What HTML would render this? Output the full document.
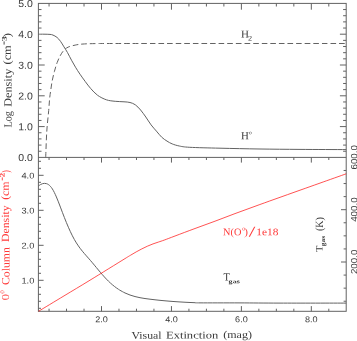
<!DOCTYPE html>
<html><head><meta charset="utf-8"><style>
html,body{margin:0;padding:0;background:#fff;}
body{width:357px;height:341px;overflow:hidden;}
svg{display:block;will-change:transform;}
</style></head><body>
<svg width="357" height="341" viewBox="0 0 357 341">
<rect x="0" y="0" width="357" height="341" fill="#fff"/>
<g style="opacity:0.999">
<g opacity="0.62">
<rect x="38.4" y="3.4" width="307.80" height="307.90" fill="none" stroke="#000" stroke-width="1.0"/>
<line x1="38.40" y1="157.40" x2="346.20" y2="157.40" stroke="#000" stroke-width="1.0"/>
<line x1="49.05" y1="3.40" x2="49.05" y2="6.50" stroke="#000" stroke-width="1.0"/>
<line x1="49.05" y1="157.40" x2="49.05" y2="160.00" stroke="#000" stroke-width="1.0"/>
<line x1="49.05" y1="311.30" x2="49.05" y2="308.70" stroke="#000" stroke-width="1.0"/>
<line x1="66.53" y1="3.40" x2="66.53" y2="6.50" stroke="#000" stroke-width="1.0"/>
<line x1="66.53" y1="157.40" x2="66.53" y2="160.00" stroke="#000" stroke-width="1.0"/>
<line x1="66.53" y1="311.30" x2="66.53" y2="308.70" stroke="#000" stroke-width="1.0"/>
<line x1="84.02" y1="3.40" x2="84.02" y2="6.50" stroke="#000" stroke-width="1.0"/>
<line x1="84.02" y1="157.40" x2="84.02" y2="160.00" stroke="#000" stroke-width="1.0"/>
<line x1="84.02" y1="311.30" x2="84.02" y2="308.70" stroke="#000" stroke-width="1.0"/>
<line x1="101.50" y1="3.40" x2="101.50" y2="9.70" stroke="#000" stroke-width="1.0"/>
<line x1="101.50" y1="157.40" x2="101.50" y2="162.60" stroke="#000" stroke-width="1.0"/>
<line x1="101.50" y1="311.30" x2="101.50" y2="306.10" stroke="#000" stroke-width="1.0"/>
<line x1="118.98" y1="3.40" x2="118.98" y2="6.50" stroke="#000" stroke-width="1.0"/>
<line x1="118.98" y1="157.40" x2="118.98" y2="160.00" stroke="#000" stroke-width="1.0"/>
<line x1="118.98" y1="311.30" x2="118.98" y2="308.70" stroke="#000" stroke-width="1.0"/>
<line x1="136.47" y1="3.40" x2="136.47" y2="6.50" stroke="#000" stroke-width="1.0"/>
<line x1="136.47" y1="157.40" x2="136.47" y2="160.00" stroke="#000" stroke-width="1.0"/>
<line x1="136.47" y1="311.30" x2="136.47" y2="308.70" stroke="#000" stroke-width="1.0"/>
<line x1="153.95" y1="3.40" x2="153.95" y2="6.50" stroke="#000" stroke-width="1.0"/>
<line x1="153.95" y1="157.40" x2="153.95" y2="160.00" stroke="#000" stroke-width="1.0"/>
<line x1="153.95" y1="311.30" x2="153.95" y2="308.70" stroke="#000" stroke-width="1.0"/>
<line x1="171.44" y1="3.40" x2="171.44" y2="9.70" stroke="#000" stroke-width="1.0"/>
<line x1="171.44" y1="157.40" x2="171.44" y2="162.60" stroke="#000" stroke-width="1.0"/>
<line x1="171.44" y1="311.30" x2="171.44" y2="306.10" stroke="#000" stroke-width="1.0"/>
<line x1="188.93" y1="3.40" x2="188.93" y2="6.50" stroke="#000" stroke-width="1.0"/>
<line x1="188.93" y1="157.40" x2="188.93" y2="160.00" stroke="#000" stroke-width="1.0"/>
<line x1="188.93" y1="311.30" x2="188.93" y2="308.70" stroke="#000" stroke-width="1.0"/>
<line x1="206.41" y1="3.40" x2="206.41" y2="6.50" stroke="#000" stroke-width="1.0"/>
<line x1="206.41" y1="157.40" x2="206.41" y2="160.00" stroke="#000" stroke-width="1.0"/>
<line x1="206.41" y1="311.30" x2="206.41" y2="308.70" stroke="#000" stroke-width="1.0"/>
<line x1="223.89" y1="3.40" x2="223.89" y2="6.50" stroke="#000" stroke-width="1.0"/>
<line x1="223.89" y1="157.40" x2="223.89" y2="160.00" stroke="#000" stroke-width="1.0"/>
<line x1="223.89" y1="311.30" x2="223.89" y2="308.70" stroke="#000" stroke-width="1.0"/>
<line x1="241.38" y1="3.40" x2="241.38" y2="9.70" stroke="#000" stroke-width="1.0"/>
<line x1="241.38" y1="157.40" x2="241.38" y2="162.60" stroke="#000" stroke-width="1.0"/>
<line x1="241.38" y1="311.30" x2="241.38" y2="306.10" stroke="#000" stroke-width="1.0"/>
<line x1="258.87" y1="3.40" x2="258.87" y2="6.50" stroke="#000" stroke-width="1.0"/>
<line x1="258.87" y1="157.40" x2="258.87" y2="160.00" stroke="#000" stroke-width="1.0"/>
<line x1="258.87" y1="311.30" x2="258.87" y2="308.70" stroke="#000" stroke-width="1.0"/>
<line x1="276.35" y1="3.40" x2="276.35" y2="6.50" stroke="#000" stroke-width="1.0"/>
<line x1="276.35" y1="157.40" x2="276.35" y2="160.00" stroke="#000" stroke-width="1.0"/>
<line x1="276.35" y1="311.30" x2="276.35" y2="308.70" stroke="#000" stroke-width="1.0"/>
<line x1="293.83" y1="3.40" x2="293.83" y2="6.50" stroke="#000" stroke-width="1.0"/>
<line x1="293.83" y1="157.40" x2="293.83" y2="160.00" stroke="#000" stroke-width="1.0"/>
<line x1="293.83" y1="311.30" x2="293.83" y2="308.70" stroke="#000" stroke-width="1.0"/>
<line x1="311.32" y1="3.40" x2="311.32" y2="9.70" stroke="#000" stroke-width="1.0"/>
<line x1="311.32" y1="157.40" x2="311.32" y2="162.60" stroke="#000" stroke-width="1.0"/>
<line x1="311.32" y1="311.30" x2="311.32" y2="306.10" stroke="#000" stroke-width="1.0"/>
<line x1="328.81" y1="3.40" x2="328.81" y2="6.50" stroke="#000" stroke-width="1.0"/>
<line x1="328.81" y1="157.40" x2="328.81" y2="160.00" stroke="#000" stroke-width="1.0"/>
<line x1="328.81" y1="311.30" x2="328.81" y2="308.70" stroke="#000" stroke-width="1.0"/>
<line x1="38.40" y1="151.24" x2="41.50" y2="151.24" stroke="#000" stroke-width="1.0"/>
<line x1="346.20" y1="151.24" x2="343.10" y2="151.24" stroke="#000" stroke-width="1.0"/>
<line x1="38.40" y1="145.08" x2="41.50" y2="145.08" stroke="#000" stroke-width="1.0"/>
<line x1="346.20" y1="145.08" x2="343.10" y2="145.08" stroke="#000" stroke-width="1.0"/>
<line x1="38.40" y1="138.92" x2="41.50" y2="138.92" stroke="#000" stroke-width="1.0"/>
<line x1="346.20" y1="138.92" x2="343.10" y2="138.92" stroke="#000" stroke-width="1.0"/>
<line x1="38.40" y1="132.76" x2="41.50" y2="132.76" stroke="#000" stroke-width="1.0"/>
<line x1="346.20" y1="132.76" x2="343.10" y2="132.76" stroke="#000" stroke-width="1.0"/>
<line x1="38.40" y1="126.60" x2="44.70" y2="126.60" stroke="#000" stroke-width="1.0"/>
<line x1="346.20" y1="126.60" x2="339.90" y2="126.60" stroke="#000" stroke-width="1.0"/>
<line x1="38.40" y1="120.44" x2="41.50" y2="120.44" stroke="#000" stroke-width="1.0"/>
<line x1="346.20" y1="120.44" x2="343.10" y2="120.44" stroke="#000" stroke-width="1.0"/>
<line x1="38.40" y1="114.28" x2="41.50" y2="114.28" stroke="#000" stroke-width="1.0"/>
<line x1="346.20" y1="114.28" x2="343.10" y2="114.28" stroke="#000" stroke-width="1.0"/>
<line x1="38.40" y1="108.12" x2="41.50" y2="108.12" stroke="#000" stroke-width="1.0"/>
<line x1="346.20" y1="108.12" x2="343.10" y2="108.12" stroke="#000" stroke-width="1.0"/>
<line x1="38.40" y1="101.96" x2="41.50" y2="101.96" stroke="#000" stroke-width="1.0"/>
<line x1="346.20" y1="101.96" x2="343.10" y2="101.96" stroke="#000" stroke-width="1.0"/>
<line x1="38.40" y1="95.80" x2="44.70" y2="95.80" stroke="#000" stroke-width="1.0"/>
<line x1="346.20" y1="95.80" x2="339.90" y2="95.80" stroke="#000" stroke-width="1.0"/>
<line x1="38.40" y1="89.64" x2="41.50" y2="89.64" stroke="#000" stroke-width="1.0"/>
<line x1="346.20" y1="89.64" x2="343.10" y2="89.64" stroke="#000" stroke-width="1.0"/>
<line x1="38.40" y1="83.48" x2="41.50" y2="83.48" stroke="#000" stroke-width="1.0"/>
<line x1="346.20" y1="83.48" x2="343.10" y2="83.48" stroke="#000" stroke-width="1.0"/>
<line x1="38.40" y1="77.32" x2="41.50" y2="77.32" stroke="#000" stroke-width="1.0"/>
<line x1="346.20" y1="77.32" x2="343.10" y2="77.32" stroke="#000" stroke-width="1.0"/>
<line x1="38.40" y1="71.16" x2="41.50" y2="71.16" stroke="#000" stroke-width="1.0"/>
<line x1="346.20" y1="71.16" x2="343.10" y2="71.16" stroke="#000" stroke-width="1.0"/>
<line x1="38.40" y1="65.00" x2="44.70" y2="65.00" stroke="#000" stroke-width="1.0"/>
<line x1="346.20" y1="65.00" x2="339.90" y2="65.00" stroke="#000" stroke-width="1.0"/>
<line x1="38.40" y1="58.84" x2="41.50" y2="58.84" stroke="#000" stroke-width="1.0"/>
<line x1="346.20" y1="58.84" x2="343.10" y2="58.84" stroke="#000" stroke-width="1.0"/>
<line x1="38.40" y1="52.68" x2="41.50" y2="52.68" stroke="#000" stroke-width="1.0"/>
<line x1="346.20" y1="52.68" x2="343.10" y2="52.68" stroke="#000" stroke-width="1.0"/>
<line x1="38.40" y1="46.52" x2="41.50" y2="46.52" stroke="#000" stroke-width="1.0"/>
<line x1="346.20" y1="46.52" x2="343.10" y2="46.52" stroke="#000" stroke-width="1.0"/>
<line x1="38.40" y1="40.36" x2="41.50" y2="40.36" stroke="#000" stroke-width="1.0"/>
<line x1="346.20" y1="40.36" x2="343.10" y2="40.36" stroke="#000" stroke-width="1.0"/>
<line x1="346.20" y1="34.20" x2="339.90" y2="34.20" stroke="#000" stroke-width="1.0"/>
<line x1="38.40" y1="28.04" x2="41.50" y2="28.04" stroke="#000" stroke-width="1.0"/>
<line x1="346.20" y1="28.04" x2="343.10" y2="28.04" stroke="#000" stroke-width="1.0"/>
<line x1="38.40" y1="21.88" x2="41.50" y2="21.88" stroke="#000" stroke-width="1.0"/>
<line x1="346.20" y1="21.88" x2="343.10" y2="21.88" stroke="#000" stroke-width="1.0"/>
<line x1="38.40" y1="15.72" x2="41.50" y2="15.72" stroke="#000" stroke-width="1.0"/>
<line x1="346.20" y1="15.72" x2="343.10" y2="15.72" stroke="#000" stroke-width="1.0"/>
<line x1="38.40" y1="9.56" x2="41.50" y2="9.56" stroke="#000" stroke-width="1.0"/>
<line x1="346.20" y1="9.56" x2="343.10" y2="9.56" stroke="#000" stroke-width="1.0"/>
<line x1="38.40" y1="308.30" x2="41.00" y2="308.30" stroke="#000" stroke-width="1.0"/>
<line x1="38.40" y1="301.30" x2="41.00" y2="301.30" stroke="#000" stroke-width="1.0"/>
<line x1="38.40" y1="294.30" x2="41.00" y2="294.30" stroke="#000" stroke-width="1.0"/>
<line x1="38.40" y1="287.30" x2="41.00" y2="287.30" stroke="#000" stroke-width="1.0"/>
<line x1="38.40" y1="280.30" x2="43.60" y2="280.30" stroke="#000" stroke-width="1.0"/>
<line x1="38.40" y1="273.30" x2="41.00" y2="273.30" stroke="#000" stroke-width="1.0"/>
<line x1="38.40" y1="266.30" x2="41.00" y2="266.30" stroke="#000" stroke-width="1.0"/>
<line x1="38.40" y1="259.30" x2="41.00" y2="259.30" stroke="#000" stroke-width="1.0"/>
<line x1="38.40" y1="252.30" x2="41.00" y2="252.30" stroke="#000" stroke-width="1.0"/>
<line x1="38.40" y1="245.30" x2="43.60" y2="245.30" stroke="#000" stroke-width="1.0"/>
<line x1="38.40" y1="238.30" x2="41.00" y2="238.30" stroke="#000" stroke-width="1.0"/>
<line x1="38.40" y1="231.30" x2="41.00" y2="231.30" stroke="#000" stroke-width="1.0"/>
<line x1="38.40" y1="224.30" x2="41.00" y2="224.30" stroke="#000" stroke-width="1.0"/>
<line x1="38.40" y1="217.30" x2="41.00" y2="217.30" stroke="#000" stroke-width="1.0"/>
<line x1="38.40" y1="210.30" x2="43.60" y2="210.30" stroke="#000" stroke-width="1.0"/>
<line x1="38.40" y1="203.30" x2="41.00" y2="203.30" stroke="#000" stroke-width="1.0"/>
<line x1="38.40" y1="196.30" x2="41.00" y2="196.30" stroke="#000" stroke-width="1.0"/>
<line x1="38.40" y1="189.30" x2="41.00" y2="189.30" stroke="#000" stroke-width="1.0"/>
<line x1="38.40" y1="182.30" x2="41.00" y2="182.30" stroke="#000" stroke-width="1.0"/>
<line x1="38.40" y1="175.30" x2="43.60" y2="175.30" stroke="#000" stroke-width="1.0"/>
<line x1="38.40" y1="168.30" x2="41.00" y2="168.30" stroke="#000" stroke-width="1.0"/>
<line x1="38.40" y1="161.30" x2="41.00" y2="161.30" stroke="#000" stroke-width="1.0"/>
<line x1="346.20" y1="301.23" x2="343.60" y2="301.23" stroke="#000" stroke-width="1.0"/>
<line x1="346.20" y1="288.15" x2="343.60" y2="288.15" stroke="#000" stroke-width="1.0"/>
<line x1="346.20" y1="275.08" x2="343.60" y2="275.08" stroke="#000" stroke-width="1.0"/>
<line x1="346.20" y1="262.00" x2="341.00" y2="262.00" stroke="#000" stroke-width="1.0"/>
<line x1="346.20" y1="248.93" x2="343.60" y2="248.93" stroke="#000" stroke-width="1.0"/>
<line x1="346.20" y1="235.85" x2="343.60" y2="235.85" stroke="#000" stroke-width="1.0"/>
<line x1="346.20" y1="222.78" x2="343.60" y2="222.78" stroke="#000" stroke-width="1.0"/>
<line x1="346.20" y1="209.70" x2="341.00" y2="209.70" stroke="#000" stroke-width="1.0"/>
<line x1="346.20" y1="196.62" x2="343.60" y2="196.62" stroke="#000" stroke-width="1.0"/>
<line x1="346.20" y1="183.55" x2="343.60" y2="183.55" stroke="#000" stroke-width="1.0"/>
<line x1="346.20" y1="170.47" x2="343.60" y2="170.47" stroke="#000" stroke-width="1.0"/>
<path d="M38.40,34.20 C39.33,34.20 42.07,34.17 44.00,34.20 C45.93,34.23 48.50,34.25 50.00,34.40 C51.50,34.55 51.83,34.60 53.00,35.10 C54.17,35.60 55.75,36.37 57.00,37.40 C58.25,38.43 59.33,39.72 60.50,41.30 C61.67,42.88 62.83,45.02 64.00,46.90 C65.17,48.78 66.25,50.38 67.50,52.60 C68.75,54.82 70.17,57.77 71.50,60.20 C72.83,62.63 74.08,64.87 75.50,67.20 C76.92,69.53 78.37,71.80 80.00,74.20 C81.63,76.60 83.53,79.23 85.30,81.60 C87.07,83.97 88.55,86.12 90.60,88.40 C92.65,90.68 94.97,93.40 97.60,95.30 C100.23,97.20 103.47,98.80 106.40,99.80 C109.33,100.80 112.27,100.97 115.20,101.30 C118.13,101.63 121.53,101.60 124.00,101.80 C126.47,102.00 128.12,102.00 130.00,102.50 C131.88,103.00 133.53,103.55 135.30,104.80 C137.07,106.05 138.85,107.97 140.60,110.00 C142.35,112.03 144.05,114.52 145.80,117.00 C147.55,119.48 149.33,122.55 151.10,124.90 C152.87,127.25 154.63,129.05 156.40,131.10 C158.17,133.15 159.93,135.53 161.70,137.20 C163.47,138.87 165.25,139.98 167.00,141.10 C168.75,142.22 170.15,143.08 172.20,143.90 C174.25,144.72 176.37,145.43 179.30,146.00 C182.23,146.57 183.02,146.93 189.80,147.30 C196.58,147.67 208.30,147.92 220.00,148.20 C231.70,148.48 246.67,148.80 260.00,149.00 C273.33,149.20 285.63,149.30 300.00,149.40 C314.37,149.50 338.50,149.57 346.20,149.60" fill="none" stroke="#000" stroke-width="1"/>
<path d="M45.70,157.40 C45.88,153.02 46.30,138.92 46.80,131.10 C47.30,123.28 48.22,116.02 48.70,110.50 C49.18,104.98 49.33,101.57 49.70,98.00 C50.07,94.43 50.47,92.05 50.90,89.10 C51.33,86.15 51.72,83.23 52.30,80.30 C52.88,77.37 53.60,74.43 54.40,71.50 C55.20,68.57 56.12,65.35 57.10,62.70 C58.08,60.05 59.18,57.65 60.30,55.60 C61.42,53.55 62.48,51.82 63.80,50.40 C65.12,48.98 66.30,47.98 68.20,47.10 C70.10,46.22 72.90,45.60 75.20,45.10 C77.50,44.60 78.57,44.35 82.00,44.10 C85.43,43.85 87.80,43.70 95.80,43.60 C103.80,43.50 88.27,43.52 130.00,43.50 C171.73,43.48 310.17,43.50 346.20,43.50" fill="none" stroke="#000" stroke-width="1" stroke-dasharray="5.6 2.9875" stroke-dashoffset="0.08"/>
<path d="M38.40,186.06 C38.73,185.82 39.73,185.02 40.40,184.63 C41.07,184.24 41.73,183.93 42.40,183.72 C43.07,183.50 43.73,183.38 44.40,183.36 C45.07,183.34 45.73,183.42 46.40,183.62 C47.07,183.82 47.73,184.11 48.40,184.56 C49.07,185.01 49.73,185.57 50.40,186.31 C51.07,187.04 51.73,187.93 52.40,188.98 C53.07,190.03 53.73,191.27 54.40,192.60 C55.07,193.93 55.73,195.43 56.40,196.97 C57.07,198.52 57.73,200.19 58.40,201.87 C59.07,203.56 59.73,205.33 60.40,207.08 C61.07,208.83 61.73,210.63 62.40,212.38 C63.07,214.13 63.73,215.87 64.40,217.56 C65.07,219.26 65.73,220.92 66.40,222.54 C67.07,224.16 67.73,225.74 68.40,227.27 C69.07,228.79 69.73,230.28 70.40,231.71 C71.07,233.13 71.73,234.51 72.40,235.82 C73.07,237.13 73.73,238.38 74.40,239.57 C75.07,240.75 75.73,241.86 76.40,242.93 C77.07,243.99 77.73,244.99 78.40,245.95 C79.07,246.91 79.73,247.81 80.40,248.69 C81.07,249.57 81.73,250.41 82.40,251.23 C83.07,252.04 83.73,252.83 84.40,253.60 C85.07,254.38 85.73,255.13 86.40,255.89 C87.07,256.64 87.73,257.38 88.40,258.14 C89.07,258.90 89.73,259.65 90.40,260.42 C91.07,261.19 91.73,261.98 92.40,262.77 C93.07,263.56 93.73,264.36 94.40,265.16 C95.07,265.96 95.73,266.77 96.40,267.58 C97.07,268.38 97.73,269.19 98.40,269.99 C99.07,270.79 99.73,271.59 100.40,272.37 C101.07,273.16 101.73,273.94 102.40,274.70 C103.07,275.47 103.73,276.22 104.40,276.95 C105.07,277.68 105.73,278.40 106.40,279.10 C107.07,279.79 107.73,280.47 108.40,281.12 C109.07,281.77 109.73,282.39 110.40,283.00 C111.07,283.61 111.73,284.19 112.40,284.75 C113.07,285.32 113.73,285.86 114.40,286.38 C115.07,286.90 115.73,287.40 116.40,287.88 C117.07,288.36 117.80,288.86 118.40,289.26 C119.00,289.65 118.90,289.65 120.00,290.27 C121.10,290.89 123.33,292.17 125.00,292.96 C126.67,293.75 128.33,294.42 130.00,295.02 C131.67,295.62 133.33,296.11 135.00,296.56 C136.67,297.00 138.33,297.36 140.00,297.69 C141.67,298.02 143.33,298.28 145.00,298.54 C146.67,298.79 148.33,299.00 150.00,299.20 C151.67,299.41 153.33,299.61 155.00,299.79 C156.67,299.98 158.33,300.16 160.00,300.33 C161.67,300.50 163.33,300.66 165.00,300.81 C166.67,300.96 168.33,301.10 170.00,301.24 C171.67,301.37 173.33,301.50 175.00,301.62 C176.67,301.74 178.33,301.85 180.00,301.95 C181.67,302.05 183.33,302.15 185.00,302.24 C186.67,302.33 188.33,302.41 190.00,302.49 C191.67,302.57 193.33,302.64 195.00,302.70 C196.67,302.76 192.50,302.84 200.00,302.87 C207.50,302.91 226.67,302.86 240.00,302.90 C253.33,302.94 262.30,303.07 280.00,303.10 C297.70,303.13 335.17,303.10 346.20,303.10" fill="none" stroke="#000" stroke-width="1"/>
</g>
<path d="M38.50,311.30 C42.75,308.73 55.42,301.08 64.00,295.90 C72.58,290.72 79.83,286.42 90.00,280.20 C100.17,273.98 118.23,262.77 125.00,258.60 C131.77,254.43 128.73,256.32 130.60,255.20 C132.47,254.08 134.33,252.95 136.20,251.90 C138.07,250.85 139.93,249.85 141.80,248.90 C143.67,247.95 145.53,247.03 147.40,246.20 C149.27,245.37 151.13,244.60 153.00,243.90 C154.87,243.20 156.73,242.63 158.60,242.00 C160.47,241.37 161.47,241.10 164.20,240.10 C166.93,239.10 169.87,237.93 175.00,236.00 C180.13,234.07 188.33,230.97 195.00,228.50 C201.67,226.03 208.33,223.68 215.00,221.20 C221.67,218.72 228.33,216.08 235.00,213.60 C241.67,211.12 248.33,208.72 255.00,206.30 C261.67,203.88 267.50,201.78 275.00,199.10 C282.50,196.42 292.50,192.87 300.00,190.20 C307.50,187.53 312.30,185.83 320.00,183.10 C327.70,180.37 341.83,175.35 346.20,173.80" fill="none" stroke="#ff0000" stroke-width="1" stroke-opacity="0.68"/>
<text x="18.20" y="161.09" transform="rotate(0.05 18.20 161.09)" font-size="10.12" fill="#383838" font-weight="normal" font-family='"Liberation Sans", sans-serif' textLength="14.56" lengthAdjust="spacingAndGlyphs">0.0</text>
<text x="18.20" y="130.29" transform="rotate(0.05 18.20 130.29)" font-size="10.12" fill="#383838" font-weight="normal" font-family='"Liberation Sans", sans-serif' textLength="14.56" lengthAdjust="spacingAndGlyphs">1.0</text>
<text x="18.20" y="99.49" transform="rotate(0.05 18.20 99.49)" font-size="10.12" fill="#383838" font-weight="normal" font-family='"Liberation Sans", sans-serif' textLength="14.56" lengthAdjust="spacingAndGlyphs">2.0</text>
<text x="18.20" y="68.69" transform="rotate(0.05 18.20 68.69)" font-size="10.12" fill="#383838" font-weight="normal" font-family='"Liberation Sans", sans-serif' textLength="14.56" lengthAdjust="spacingAndGlyphs">3.0</text>
<text x="18.20" y="37.89" transform="rotate(0.05 18.20 37.89)" font-size="10.12" fill="#383838" font-weight="normal" font-family='"Liberation Sans", sans-serif' textLength="14.56" lengthAdjust="spacingAndGlyphs">4.0</text>
<text x="18.20" y="7.09" transform="rotate(0.05 18.20 7.09)" font-size="10.12" fill="#383838" font-weight="normal" font-family='"Liberation Sans", sans-serif' textLength="14.56" lengthAdjust="spacingAndGlyphs">5.0</text>
<text x="21.44" y="283.38" transform="rotate(0.05 21.44 283.38)" font-size="8.42" fill="#383838" font-weight="normal" font-family='"Liberation Sans", sans-serif' textLength="12.88" lengthAdjust="spacingAndGlyphs">1.0</text>
<text x="21.44" y="248.38" transform="rotate(0.05 21.44 248.38)" font-size="8.42" fill="#383838" font-weight="normal" font-family='"Liberation Sans", sans-serif' textLength="12.88" lengthAdjust="spacingAndGlyphs">2.0</text>
<text x="21.44" y="213.38" transform="rotate(0.05 21.44 213.38)" font-size="8.42" fill="#383838" font-weight="normal" font-family='"Liberation Sans", sans-serif' textLength="12.88" lengthAdjust="spacingAndGlyphs">3.0</text>
<text x="21.44" y="178.38" transform="rotate(0.05 21.44 178.38)" font-size="8.42" fill="#383838" font-weight="normal" font-family='"Liberation Sans", sans-serif' textLength="12.88" lengthAdjust="spacingAndGlyphs">4.0</text>
<text x="95.21" y="322.19" transform="rotate(0.05 95.21 322.19)" font-size="8.55" fill="#383838" font-weight="normal" font-family='"Liberation Sans", sans-serif' textLength="12.63" lengthAdjust="spacingAndGlyphs">2.0</text>
<text x="165.15" y="322.19" transform="rotate(0.05 165.15 322.19)" font-size="8.55" fill="#383838" font-weight="normal" font-family='"Liberation Sans", sans-serif' textLength="12.63" lengthAdjust="spacingAndGlyphs">4.0</text>
<text x="235.09" y="322.19" transform="rotate(0.05 235.09 322.19)" font-size="8.55" fill="#383838" font-weight="normal" font-family='"Liberation Sans", sans-serif' textLength="12.63" lengthAdjust="spacingAndGlyphs">6.0</text>
<text x="305.03" y="322.19" transform="rotate(0.05 305.03 322.19)" font-size="8.55" fill="#383838" font-weight="normal" font-family='"Liberation Sans", sans-serif' textLength="12.63" lengthAdjust="spacingAndGlyphs">8.0</text>
<text transform="translate(357.17,274.11) rotate(-89.95)" font-size="9.00" fill="#383838" font-weight="normal" font-family='"Liberation Sans", sans-serif' textLength="24.44" lengthAdjust="spacingAndGlyphs">200.0</text>
<text transform="translate(357.17,221.81) rotate(-89.95)" font-size="9.00" fill="#383838" font-weight="normal" font-family='"Liberation Sans", sans-serif' textLength="24.44" lengthAdjust="spacingAndGlyphs">400.0</text>
<text transform="translate(357.17,169.50) rotate(-89.95)" font-size="9.00" fill="#383838" font-weight="normal" font-family='"Liberation Sans", sans-serif' textLength="24.44" lengthAdjust="spacingAndGlyphs">600.0</text>
<text x="131.52" y="338.76" transform="rotate(0.05 131.52 338.76)" font-size="10.30" fill="#383838" font-weight="normal" font-family='"Liberation Serif", serif' textLength="30.06" lengthAdjust="spacingAndGlyphs">Visual</text>
<text x="166.01" y="338.58" transform="rotate(0.05 166.01 338.58)" font-size="10.30" fill="#383838" font-weight="normal" font-family='"Liberation Serif", serif' textLength="52.18" lengthAdjust="spacingAndGlyphs">Extinction</text>
<text x="223.24" y="337.90" transform="rotate(0.05 223.24 337.90)" font-size="10.30" fill="#383838" font-weight="normal" font-family='"Liberation Serif", serif' textLength="28.69" lengthAdjust="spacingAndGlyphs">(mag)</text>
<text x="241.09" y="37.49" transform="rotate(0.05 241.09 37.49)" font-size="10.47" fill="#383838" font-weight="normal" font-family='"Liberation Serif", serif' textLength="7.94" lengthAdjust="spacingAndGlyphs">H</text>
<text x="248.01" y="40.45" transform="rotate(0.05 248.01 40.45)" font-size="6.89" fill="#383838" font-weight="normal" font-family='"Liberation Serif", serif' textLength="4.15" lengthAdjust="spacingAndGlyphs">2</text>
<text x="241.04" y="139.33" transform="rotate(0.05 241.04 139.33)" font-size="10.67" fill="#383838" font-weight="normal" font-family='"Liberation Serif", serif' textLength="7.85" lengthAdjust="spacingAndGlyphs">H</text>
<text x="248.95" y="134.29" transform="rotate(0.05 248.95 134.29)" font-size="5.48" fill="#383838" font-weight="normal" font-family='"Liberation Serif", serif' textLength="2.71" lengthAdjust="spacingAndGlyphs">o</text>
<text x="223.14" y="235.20" transform="rotate(0.05 223.14 235.20)" font-size="10.20" fill="#ff3838" font-weight="normal" font-family='"Liberation Serif", serif' textLength="18.32" lengthAdjust="spacingAndGlyphs">N(O</text>
<text x="242.33" y="230.39" transform="rotate(0.05 242.33 230.39)" font-size="6.30" fill="#ff3838" font-weight="normal" font-family='"Liberation Serif", serif' textLength="2.96" lengthAdjust="spacingAndGlyphs">o</text>
<text x="244.36" y="235.20" transform="rotate(0.05 244.36 235.20)" font-size="10.20" fill="#ff3838" font-weight="normal" font-family='"Liberation Serif", serif' textLength="3.72" lengthAdjust="spacingAndGlyphs">)</text>
<text x="248.80" y="236.55" transform="rotate(0.05 248.80 236.55)" font-size="14.81" fill="#ff3838" font-weight="normal" font-family='"Liberation Serif", serif' textLength="6.57" lengthAdjust="spacingAndGlyphs">/</text>
<text x="256.34" y="235.20" transform="rotate(0.05 256.34 235.20)" font-size="10.20" fill="#ff3838" font-weight="normal" font-family='"Liberation Serif", serif' textLength="22.11" lengthAdjust="spacingAndGlyphs">1e18</text>
<text x="223.60" y="280.60" transform="rotate(0.05 223.60 280.60)" font-size="10.95" fill="#383838" font-weight="normal" font-family='"Liberation Serif", serif' textLength="6.29" lengthAdjust="spacingAndGlyphs">T</text>
<text x="228.64" y="283.20" transform="rotate(0.05 228.64 283.20)" font-size="5.60" fill="#383838" font-weight="bold" font-family='"Liberation Serif", serif' textLength="11.17" lengthAdjust="spacingAndGlyphs">gas</text>
<text transform="translate(322.61,252.01) rotate(-89.95)" font-size="9.71" fill="#383838" font-weight="normal" font-family='"Liberation Serif", serif' textLength="6.40" lengthAdjust="spacingAndGlyphs">T</text>
<text transform="translate(324.95,246.17) rotate(-89.95)" font-size="6.22" fill="#383838" font-weight="bold" font-family='"Liberation Serif", serif' textLength="10.17" lengthAdjust="spacingAndGlyphs">gas</text>
<text transform="translate(323.10,230.95) rotate(-89.95)" font-size="11.00" fill="#383838" font-weight="normal" font-family='"Liberation Serif", serif' textLength="13.86" lengthAdjust="spacingAndGlyphs">(K)</text>
<text transform="translate(11.61,127.50) rotate(-89.95)" font-size="11.00" fill="#383838" font-weight="normal" font-family='"Liberation Serif", serif' textLength="16.49" lengthAdjust="spacingAndGlyphs">Log</text>
<text transform="translate(11.58,106.75) rotate(-89.95)" font-size="11.00" fill="#383838" font-weight="normal" font-family='"Liberation Serif", serif' textLength="38.00" lengthAdjust="spacingAndGlyphs">Density</text>
<text transform="translate(10.80,64.46) rotate(-89.95)" font-size="11.00" fill="#383838" font-weight="normal" font-family='"Liberation Serif", serif' textLength="19.12" lengthAdjust="spacingAndGlyphs">(cm</text>
<text transform="translate(6.49,41.31) rotate(-89.95)" font-size="6.80" fill="#383838" font-weight="bold" font-family='"Liberation Serif", serif' textLength="5.14" lengthAdjust="spacingAndGlyphs">3</text>
<text transform="translate(10.85,37.58) rotate(-89.95)" font-size="11.00" fill="#383838" font-weight="normal" font-family='"Liberation Serif", serif' textLength="4.51" lengthAdjust="spacingAndGlyphs">)</text>
<text transform="translate(9.06,299.94) rotate(-89.95)" font-size="10.61" fill="#ff3838" font-weight="normal" font-family='"Liberation Serif", serif' textLength="5.75" lengthAdjust="spacingAndGlyphs">O</text>
<text transform="translate(4.35,293.64) rotate(-89.95)" font-size="8.11" fill="#ff3838" font-weight="normal" font-family='"Liberation Serif", serif' textLength="3.54" lengthAdjust="spacingAndGlyphs">o</text>
<text transform="translate(9.37,285.11) rotate(-89.95)" font-size="11.00" fill="#ff3838" font-weight="normal" font-family='"Liberation Serif", serif' textLength="37.98" lengthAdjust="spacingAndGlyphs">Column</text>
<text transform="translate(9.09,242.08) rotate(-89.95)" font-size="11.00" fill="#ff3838" font-weight="normal" font-family='"Liberation Serif", serif' textLength="36.69" lengthAdjust="spacingAndGlyphs">Density</text>
<text transform="translate(8.81,199.86) rotate(-89.95)" font-size="11.00" fill="#ff3838" font-weight="normal" font-family='"Liberation Serif", serif' textLength="18.46" lengthAdjust="spacingAndGlyphs">(cm</text>
<text transform="translate(4.45,177.32) rotate(-89.95)" font-size="6.80" fill="#ff3838" font-weight="bold" font-family='"Liberation Serif", serif' textLength="4.52" lengthAdjust="spacingAndGlyphs">2</text>
<text transform="translate(9.21,172.82) rotate(-89.95)" font-size="11.00" fill="#ff3838" font-weight="normal" font-family='"Liberation Serif", serif' textLength="2.55" lengthAdjust="spacingAndGlyphs">)</text>
<line x1="4.1" y1="41.4" x2="4.1" y2="44.6" stroke="#383838" stroke-width="0.9"/>
<line x1="2.3" y1="177.4" x2="2.3" y2="180.4" stroke="#ff3838" stroke-width="0.9"/>
</g>
</svg>
</body></html>
